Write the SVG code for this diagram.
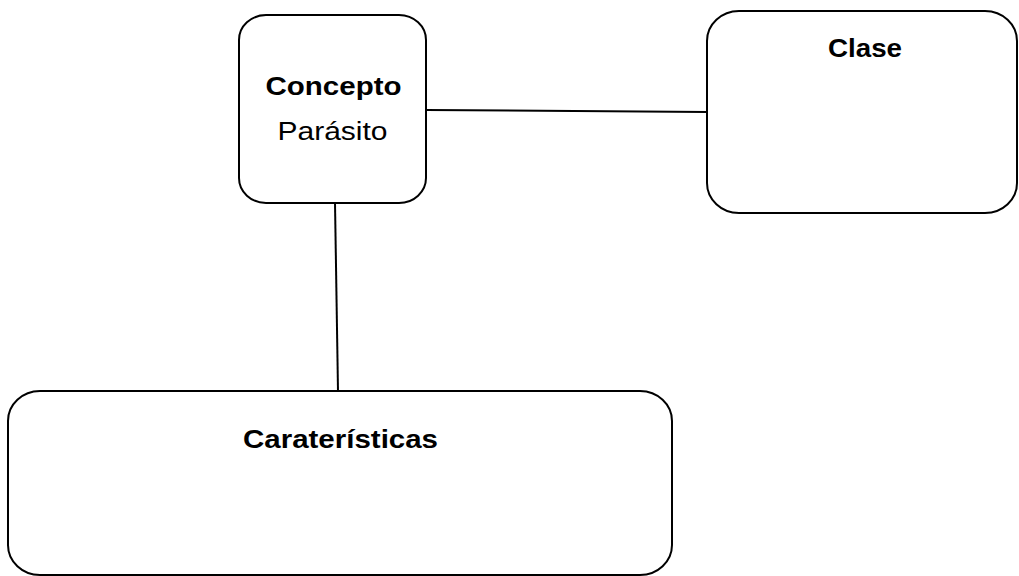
<svg xmlns="http://www.w3.org/2000/svg" width="1019" height="576" viewBox="0 0 1019 576">
<style>
.box{fill:#fff;stroke:#000;stroke-width:2}
.edge{fill:none;stroke:#000;stroke-width:2}
text{font-family:"Liberation Sans",Arial,sans-serif;fill:#000;text-anchor:middle}
.b{font-weight:bold;font-size:26px}
.r{font-size:26px}
</style>
<rect width="1019" height="576" fill="#fff"/>
<g id="connectors">
<line class="edge" x1="426" y1="110" x2="707" y2="112"/>
<line class="edge" x1="335" y1="203" x2="338" y2="391"/>
</g>
<g id="concepto">
<rect class="box" x="239" y="15" width="187" height="188" rx="27" ry="25"/>
<text class="b" x="333.5" y="95" textLength="136" lengthAdjust="spacingAndGlyphs">Concepto</text>
<text class="r" x="332.5" y="140" textLength="110" lengthAdjust="spacingAndGlyphs">Parásito</text>
</g>
<g id="clase">
<rect class="box" x="707" y="11" width="310" height="202" rx="32" ry="30"/>
<text class="b" x="865" y="57" textLength="74" lengthAdjust="spacingAndGlyphs">Clase</text>
</g>
<g id="caracteristicas">
<rect class="box" x="8" y="391" width="664" height="184" rx="32" ry="30"/>
<text class="b" x="340.5" y="448" textLength="195" lengthAdjust="spacingAndGlyphs">Caraterísticas</text>
</g>
</svg>
